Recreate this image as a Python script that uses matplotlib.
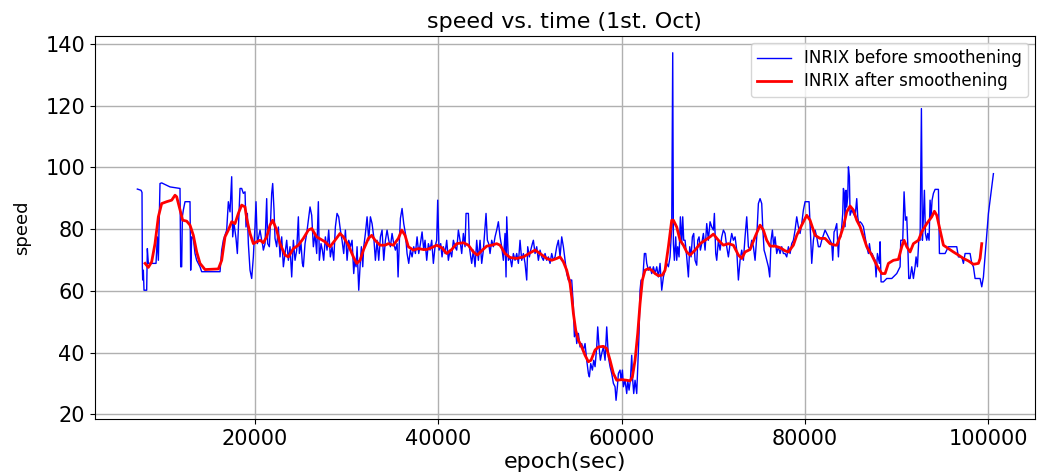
import matplotlib
matplotlib.use("Agg")
import matplotlib.pyplot as plt

# raw INRIX speed samples (epoch seconds, speed)
before_t = [
    7157, 7558, 7667, 7703, 7740, 7812, 7885, 8176, 8249, 8358, 8540, 9195, 9340, 9450, 9631, 9813,
    10723, 11814, 11887, 11996, 12069, 12178, 12360, 12905, 12978, 13087, 13269, 13451, 13633, 13997,
    14179, 16180, 16362, 16543, 16907, 17089, 17271, 17453, 17562, 17708, 17926, 18071, 18217, 18362,
    18544, 18726, 18908, 19017, 19163, 19272, 19454, 19636, 19818, 19890, 19999, 20108, 20254, 20363,
    20545, 20727, 20836, 20909, 21091, 21273, 21382, 21564, 21709, 21818, 21928, 22073, 22182, 22364,
    22547, 22729, 22911, 23093, 23274, 23456, 23638, 23820, 24002, 24184, 24366, 24548, 24730, 24839,
    25021, 25166, 25275, 25457, 25639, 25821, 26003, 26185, 26367, 26549, 26731, 26912, 27021, 27203,
    27349, 27494, 27676, 27858, 28040, 28222, 28404, 28586, 28768, 28950, 29132, 29314, 29496, 29678,
    29863, 30045, 30227, 30409, 30590, 30772, 30881, 31027, 31136, 31318, 31500, 31609, 31755, 31864,
    32046, 32228, 32409, 32591, 32773, 32955, 33137, 33319, 33501, 33683, 33865, 34047, 34228, 34410,
    34592, 34774, 34956, 35138, 35320, 35502, 35611, 35756, 35866, 36047, 36229, 36411, 36593, 36775,
    36957, 37139, 37321, 37503, 37685, 37866, 38048, 38230, 38412,
    38554, 38736, 38918, 39099, 39281, 39463, 39645, 39827, 39936, 40082, 40264, 40409, 40555, 40737,
    40918, 41100, 41282, 41464, 41646, 41828, 42010, 42192, 42374, 42556, 42737, 42919, 43028, 43283,
    43392, 43538, 43647, 43829, 44011, 44193, 44375, 44556, 44738, 44920, 45102, 45211, 45357, 45502,
    45648, 45830, 46012, 46194, 46375, 46557, 46739, 46921, 47103, 47285, 47394, 47467, 47649, 47831,
    48013, 48194, 48376, 48558, 48740, 48922, 49104, 49286, 49468, 49650, 49759, 49941, 50086, 50268,
    50377, 50559, 50741, 50923, 51105, 51287, 51469, 51651, 51832, 52014, 52196, 52378, 52560, 52742,
    52924, 53106, 53288, 53470, 53651, 53833, 54015, 54197,
    54561, 54743, 54852, 54998, 55107, 55289, 55471, 55652, 55834, 56016, 56198, 56380, 56489, 56635,
    56817, 56962, 57108, 57290, 57399, 57544, 57690, 57835, 58017, 58199, 58381, 58563, 58745, 58927,
    59109, 59290, 59399, 59545, 59654, 59836, 59945, 60091, 60200, 60382, 60564, 60673, 60818, 60964,
    61109, 61219, 61328, 61473, 61655, 61764, 61910, 62019, 62128, 62310, 62492, 62637, 62747, 62928,
    63110, 63292, 63474, 63656, 63838, 64020, 64202, 64384, 64566, 64747, 64929, 65111, 65293,
    65475, 65584, 65657, 65766, 65911, 66020, 66129, 66275, 66420, 66566, 66675, 66784, 66930, 67112,
    67294, 67439, 67585, 67730, 67876, 68021, 68203, 68312, 68458, 68603, 68749, 68931, 69113, 69295,
    69476, 69658, 69840, 70022, 70131, 70277, 70386, 70568, 70750, 70932, 71114, 71295, 71477, 71659,
    71841, 72023, 72205, 72387, 72569, 72751, 72933, 73114, 73296, 73478, 73660, 73842, 74024, 74206,
    74388, 74570, 74752, 74933, 75115, 75297, 75406, 75552, 75661, 75843, 76025, 76170, 76316, 76461,
    76607, 76752, 76934, 77116, 77298, 77480, 77662, 77844, 78026, 78208, 78390, 78571, 78753, 78935,
    79117, 79299, 79481, 79663, 79845, 80027, 80463, 80572, 80754, 80936, 81118, 81300, 81482, 81664,
    81846, 82209, 82573, 82937, 83046, 83192, 83300,
    83484, 83666, 83775, 83920, 84029, 84138, 84211, 84320, 84393, 84502, 84575, 84684, 84757, 84866,
    84939, 85121, 85303, 85485, 85666, 85776, 85885, 86030, 86212, 86394, 86576, 86758, 86940, 87049,
    87194, 87340, 87485, 87667, 87776, 87922, 88140, 88213, 88322, 88577, 88941, 89486, 90032, 90396,
    90469, 90687, 90832, 90978, 91123, 91233, 91342, 91487, 91669, 91851, 92033, 92142, 92288, 92433,
    92579, 92724, 92833, 92942, 93052, 93161, 93306, 93415, 93561, 93670, 93779, 93888, 94034, 94216,
    94580, 94689, 94943, 95307, 95489, 95671, 96217, 96580, 96762, 97126, 97308, 97490, 98036, 98218,
    98399, 98581, 99127, 99309, 99491, 100037, 100582,
]
before_speed = [
    93.0, 92.6, 91.9, 67.8, 63.5, 66.7, 60.2, 60.2, 73.7, 68.9, 68.9, 68.9, 77.5, 69.9, 94.8, 95.0,
    93.7, 93.2, 67.8, 67.8, 84.0, 86.2, 88.9, 88.9, 66.7, 77.5, 77.0, 72.1, 69.9, 67.8,
    66.2, 66.2, 73.2, 76.4, 79.7, 88.9, 85.6, 97.0, 77.5, 81.8, 77.0, 72.1, 82.9, 93.2,
    93.2, 91.6, 92.1, 80.7, 85.1, 75.3, 66.7, 64.0, 71.0, 75.3, 80.7, 88.9, 75.3, 77.0,
    79.7, 76.4, 74.8, 73.2, 75.3, 89.9, 75.3, 74.3, 83.5, 91.6, 94.8, 86.2, 77.0, 74.3,
    80.7, 71.0, 77.5, 67.8, 72.1, 76.4, 69.9, 74.3, 64.5, 76.4, 69.9, 73.2, 84.0, 72.1,
    75.3, 68.9, 67.8, 75.3, 78.6, 82.9, 87.2, 84.5, 74.3, 78.6, 72.1, 88.9, 69.9, 75.3,
    73.2, 69.9, 77.5, 73.2, 79.7, 71.0, 74.3, 69.9, 80.7, 85.1, 84.0, 79.7, 76.4, 72.1,
    79.7, 69.9, 76.4, 74.3, 76.4, 65.6, 69.9, 67.8, 74.3, 60.2, 69.9, 74.3, 67.8, 74.3,
    78.6, 84.0, 76.4, 84.0, 81.8, 77.5, 69.9, 76.4, 69.9, 77.5, 79.7, 69.9, 76.4, 79.7,
    76.4, 74.3, 78.6, 75.3, 73.2, 75.3, 64.5, 76.4, 83.5, 86.7, 81.8, 78.6, 72.1, 68.9,
    73.2, 71.0, 74.3, 72.1, 77.5, 72.1, 75.3, 79.1, 73.2,
    76.4, 69.9, 75.3, 73.2, 76.4, 68.9, 74.3, 76.4, 89.4, 73.2, 75.3, 71.0, 74.3, 72.1,
    76.4, 69.9, 73.2, 71.0, 76.4, 74.3, 73.2, 79.7, 76.4, 72.1, 78.6, 74.3, 85.1, 85.1,
    74.3, 71.0, 68.9, 73.2, 67.8, 76.4, 69.9, 76.4, 68.9, 73.2, 80.7, 85.1, 76.4, 75.3,
    72.1, 76.4, 74.3, 77.5, 79.7, 82.4, 77.5, 74.3, 69.9, 78.6, 64.5, 84.0, 69.9, 71.0,
    67.8, 72.1, 69.9, 72.1, 68.9, 76.4, 69.9, 72.1, 68.9, 63.5, 74.3, 71.0, 73.2, 75.3,
    76.4, 72.1, 74.3, 69.9, 73.2, 71.0, 69.9, 72.1, 69.9, 71.0, 68.9, 72.1, 69.9, 71.0,
    74.3, 76.4, 71.0, 77.5, 74.3, 69.9, 65.6, 63.5,
    63.5, 54.8, 45.1, 47.2, 42.9, 46.2, 41.8, 42.9, 40.8, 42.9, 37.5, 33.2, 32.1, 36.4,
    34.3, 37.5, 35.4, 41.8, 48.3, 41.8, 37.5, 39.7, 41.8, 37.5, 48.3, 38.6, 35.4, 33.2,
    30.0, 28.9, 24.5, 28.9, 33.2, 34.3, 31.0, 34.3, 28.9, 31.0, 26.7, 31.0, 27.8, 31.0,
    39.1, 31.0, 26.7, 31.0, 26.7, 35.4, 46.2, 60.2, 63.5, 63.5, 72.1, 72.1, 68.9, 66.7,
    67.8, 65.6, 67.8, 65.6, 67.8, 64.5, 68.9, 60.2, 64.5, 66.7, 68.9, 67.8, 71.0,
    80.7, 137.2, 75.3, 69.9, 77.5, 69.9, 74.3, 71.0, 84.0, 75.3, 84.0, 76.4, 76.4, 71.0,
    64.5, 74.3, 71.0, 77.5, 78.6, 69.9, 68.3, 76.4, 77.5, 73.2, 75.3, 78.6, 73.2, 81.8,
    76.4, 82.4, 80.7, 79.7, 85.1, 72.1, 69.9, 76.4, 73.2, 77.5, 79.7, 78.6, 74.3, 71.0,
    75.3, 78.6, 76.4, 77.5, 73.2, 63.5, 69.9, 73.2, 69.9, 77.5, 84.0, 74.3, 73.2, 76.4,
    74.3, 69.9, 77.5, 88.3, 89.9, 88.3, 80.7, 73.2, 72.1, 69.9, 67.8, 64.5, 76.4, 79.7,
    74.3, 77.5, 72.1, 74.3, 72.1, 74.3, 72.1, 72.1, 71.0, 74.3, 72.1, 75.3, 76.4, 79.7,
    84.0, 80.7, 78.6, 81.8, 86.2, 88.9, 88.9, 81.8, 68.9, 76.4, 79.7, 77.5, 74.3, 74.3,
    76.4, 79.7, 77.5, 75.3, 69.9, 79.1, 79.7,
    81.8, 71.0, 77.5, 77.5, 80.8, 85.1, 93.2, 91.6, 80.8, 92.6, 87.2, 90.5, 100.2, 97.0,
    84.5, 86.2, 85.1, 84.0, 89.9, 84.0, 81.8, 82.4, 81.8, 80.8, 77.5, 74.3, 72.1, 75.3,
    72.1, 72.1, 71.0, 69.9, 64.5, 72.1, 68.9, 75.9, 62.9, 62.9, 64.0, 64.0, 65.6, 67.8,
    76.4, 76.4, 92.1, 82.9, 84.0, 75.3, 64.0, 64.0, 67.8, 64.0, 67.8, 71.0, 67.8, 76.4,
    76.4, 119.1, 76.4, 84.0, 92.6, 78.6, 76.4, 78.6, 76.4, 89.4, 84.0, 89.4, 91.6, 92.9,
    92.9, 72.1, 72.1, 72.1, 73.2, 74.3, 74.3, 74.3, 71.0, 71.0, 68.9, 72.1, 72.1, 68.9,
    67.8, 64.0, 64.0, 61.3, 64.5, 85.1, 98.0,
]

# smoothed speed
after_t = [
    8000, 8358, 8722, 9086, 9450, 9813, 10359, 10905, 11268, 11450, 11814, 12105, 12542, 12905,
    13269, 13633, 13997, 14543, 15998, 16362, 16725, 17089, 17453, 17817, 18180, 18544, 18908,
    19090, 19454, 19818, 20181, 20545, 20909, 21273, 21637, 21928, 22364,
    22729, 23274, 23638, 24184, 24730, 25275, 25821, 26185, 26731, 27640, 28186, 28731, 29277,
    29641, 30187, 30732, 31096, 31460, 31824, 32369, 32733, 33097, 33643, 34188, 34552, 35098,
    35644, 36007, 36371, 36735, 37281, 37826, 38372,
    38736, 39281, 39827, 40373, 40918, 41464, 42010, 42737, 43283, 43829, 44265, 44738, 45284,
    45830, 46375, 46739, 47285, 47831, 48558, 49286, 50013, 50559, 51105, 51832, 52378, 52924,
    53288, 53651,
    54015, 54379, 54561, 54743, 54998, 55289, 55652, 56016, 56380, 56671, 57108, 57471, 58017,
    58381, 58745, 59109, 59472, 60018, 60564, 60928, 61182, 61473, 61764, 62019, 62274, 62565,
    62928, 63292, 63656, 64020, 64456, 64747, 65111, 65475,
    65657, 66020, 66384, 66748, 67112, 67476, 68021, 68567, 69113, 69658, 70022, 70568, 71114,
    71659, 72205, 72751, 73114, 73478, 74024, 74570, 75115, 75479, 75843, 76207, 76752, 77298,
    77844, 78208, 78753, 79117, 79663, 80209, 80572, 81118, 81664, 82209, 82755, 83300,
    83484, 83847, 84211, 84575, 84939, 85303, 85666, 86030, 86394, 86758, 87304, 87849, 88395,
    88759, 89123, 89668, 90214, 90578, 90832, 91123, 91487, 91851, 92397, 92761, 93306, 93852,
    94143, 94398, 94761, 95125, 95671, 96217, 96762, 97308, 97854, 98399, 98945, 99127, 99309,
]
after_speed = [
    68.9, 67.6, 69.4, 75.3, 84.0, 88.3, 88.9, 89.4, 91.0, 90.5, 86.2, 82.9, 82.6, 81.3,
    78.0, 72.6, 68.9, 66.9, 67.1, 69.9, 77.5, 79.7, 82.4, 81.8, 85.1, 87.8, 87.2,
    83.5, 78.6, 75.3, 75.9, 76.4, 75.6, 77.5, 81.3, 82.9, 79.7,
    75.3, 71.6, 71.0, 73.7, 74.8, 77.0, 79.7, 80.2, 77.5, 75.9, 74.3, 76.4, 78.6,
    77.5, 74.8, 71.0, 68.9, 69.9, 73.2, 77.0, 78.0, 76.4, 74.8, 74.8, 75.3, 74.8,
    77.0, 79.7, 78.0, 74.3, 73.2, 73.7, 73.4,
    73.4, 74.0, 74.8, 74.0, 72.1, 73.4, 75.3, 75.6, 74.8, 72.6, 71.6, 73.0, 74.5,
    74.8, 75.3, 74.8, 72.1, 70.8, 70.5, 71.0, 72.3, 73.2, 72.1, 70.5, 69.9, 70.5,
    71.0, 69.4,
    66.7, 62.4, 58.0, 52.7, 47.2, 44.0, 41.8, 39.1, 37.0, 37.5, 40.8, 41.8, 42.0,
    41.3, 37.5, 33.2, 31.0, 31.2, 31.0, 30.8, 32.1, 37.5, 46.2, 55.9, 63.5, 66.7,
    67.2, 66.7, 65.6, 64.9, 65.1, 66.7, 74.3, 82.9,
    82.9, 80.7, 76.4, 74.8, 72.6, 71.6, 73.2, 75.3, 76.4, 77.5, 78.4, 76.4, 74.8,
    75.3, 74.8, 71.6, 70.5, 72.6, 73.4, 77.5, 81.3, 79.7, 76.4, 74.5, 74.5, 74.0,
    73.0, 72.6, 74.8, 78.0, 81.3, 84.5, 82.9, 78.0, 77.0, 77.0, 75.3, 74.8,
    74.8, 77.5, 80.8, 85.6, 87.5, 86.2, 82.9, 80.8, 77.5, 74.3, 71.6, 68.3, 65.6,
    65.6, 68.9, 69.9, 70.2, 74.3, 76.4, 74.3, 72.6, 75.3, 76.4, 79.1, 81.8, 84.0,
    85.8, 84.5, 79.7, 74.8, 73.7, 72.6, 71.6, 70.5, 69.7, 68.6, 68.9, 70.5, 75.3,
]

fig = plt.figure(figsize=(10.38, 4.75), dpi=100)
ax = fig.add_axes([0.0912, 0.117, 0.906, 0.807])
ax.plot(before_t, before_speed, color='b', linewidth=1, label='INRIX before smoothening')
ax.plot(after_t, after_speed, color='r', linewidth=2, label='INRIX after smoothening')
ax.set_xlim(2500, 105130)
ax.set_ylim(18.3, 142.6)
ax.grid(True, linewidth=1)
ax.set_title('speed vs. time (1st. Oct)', fontsize=16)
ax.set_xlabel('epoch(sec)', fontsize=16, labelpad=2)
ax.set_ylabel('speed', fontsize=13)
ax.yaxis.set_label_coords(-0.068, 0.5)
ax.tick_params(labelsize=15)
ax.legend(loc='upper right', fontsize=12, labelspacing=0.3, borderaxespad=0.4)
fig.savefig('out.png', dpi=100)
